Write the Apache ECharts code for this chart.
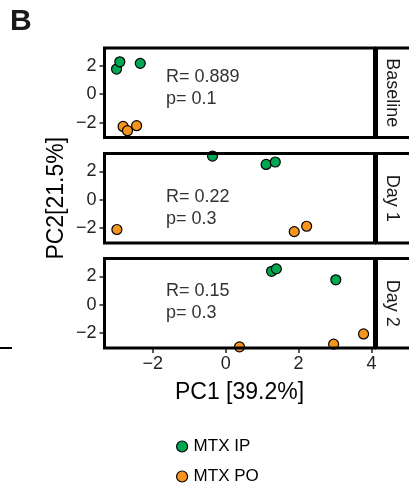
<!DOCTYPE html>
<html>
<head>
<meta charset="utf-8">
<script src="https://cdn.jsdelivr.net/npm/echarts@6/dist/echarts.min.js"></script>
<style>
  html, body { margin: 0; padding: 0; background: #fff; }
  #chart { width: 409px; height: 493px; }
</style>
</head>
<body>
<div id="chart"></div>
<script>
// PCA scores, one array per panel and group
var baselineIP = [[-2.99, 1.77], [-2.90, 2.28], [-2.34, 2.17]]
var baselinePO = [[-2.81, -2.27], [-2.69, -2.57], [-2.44, -2.22]]
var day1IP = [[-0.36, 3.07], [1.11, 2.48], [1.36, 2.65]]
var day1PO = [[-2.98, -2.10], [1.88, -2.25], [2.22, -1.87]]
var day2IP = [[1.26, 2.35], [1.39, 2.52], [3.02, 1.75]]
var day2PO = [[0.38, -2.97], [2.96, -2.78], [3.78, -2.06]]

var panelNames = ['Baseline', 'Day 1', 'Day 2']
var rValues = ['0.889', '0.22', '0.15']
var pValues = ['0.1', '0.3', '0.3']
var xTicks = [-2, 0, 2, 4]
var yTicks = [-2, 0, 2]
var groupNames = ['MTX IP', 'MTX PO']

var ipData = [baselineIP, day1IP, day2IP]
var poData = [baselinePO, day1PO, day2PO]

var FONT = 'Liberation Sans, Arial, Helvetica, sans-serif'
var GREEN = '#00a651'
var ORANGE = '#f7941d'

var left = 104.5
var width = 270
var tops = [48, 153.5, 258.5]
var height = 89.5
// R / p label rows, pixel offset from panel top
var rRows = [28.7, 43.8, 32.2]

var myChart = echarts.init(document.getElementById('chart'))

var grids = []
var xAxes = []
var yAxes = []
var series = []
var graphics = []

function minus (v) {
  return String(v).replace('-', '\u2212')
}

for (var i = 0; i < 3; i++) {
  grids.push({ left: left, top: tops[i], width: width, height: height })
  xAxes.push({
    type: 'value',
    gridIndex: i,
    min: -3.32,
    max: 4.08,
    axisLine: { show: false, onZero: false },
    splitLine: { show: false },
    axisTick: {
      show: i === 2,
      customValues: xTicks,
      length: 5,
      lineStyle: { color: '#222', width: 1.5 }
    },
    axisLabel: {
      show: i === 2,
      customValues: xTicks,
      formatter: minus,
      color: '#222',
      fontSize: 18,
      fontFamily: FONT,
      margin: 7
    },
    name: i === 2 ? 'PC1 [39.2%]' : '',
    nameLocation: 'middle',
    nameGap: 33,
    nameMoveOverlap: false,
    nameTextStyle: { color: '#000', fontSize: 23, fontFamily: FONT }
  })
  yAxes.push({
    type: 'value',
    gridIndex: i,
    min: -3.05,
    max: 3.25,
    axisLine: { show: false, onZero: false },
    splitLine: { show: false },
    axisTick: {
      customValues: yTicks,
      length: 5,
      lineStyle: { color: '#222', width: 1.5 }
    },
    axisLabel: {
      customValues: yTicks,
      formatter: minus,
      color: '#222',
      fontSize: 18,
      fontFamily: FONT,
      margin: 8
    },
    name: i === 1 ? 'PC2[21.5%]' : '',
    nameLocation: 'middle',
    nameGap: 36,
    nameMoveOverlap: false,
    nameTextStyle: { color: '#000', fontSize: 23, fontFamily: FONT }
  })
  series.push({
    name: groupNames[0],
    type: 'scatter',
    xAxisIndex: i,
    yAxisIndex: i,
    symbolSize: 10,
    itemStyle: { color: GREEN, borderColor: '#000', borderWidth: 1.2, opacity: 1 },
    data: ipData[i]
  })
  series.push({
    name: groupNames[1],
    type: 'scatter',
    xAxisIndex: i,
    yAxisIndex: i,
    symbolSize: 10,
    itemStyle: { color: ORANGE, borderColor: '#000', borderWidth: 1.2, opacity: 1 },
    data: poData[i]
  })

  // panel border
  graphics.push({
    type: 'rect',
    z: 100,
    shape: { x: left, y: tops[i], width: width, height: height },
    style: { fill: null, stroke: '#000', lineWidth: 3 }
  })
  // facet strip
  graphics.push({
    type: 'rect',
    z: 100,
    shape: { x: left + width + 2, y: tops[i], width: 60, height: height },
    style: { fill: '#fff', stroke: '#000', lineWidth: 3 }
  })
  graphics.push({
    type: 'text',
    z: 101,
    x: 392,
    y: tops[i] + height / 2,
    rotation: -Math.PI / 2,
    style: {
      text: panelNames[i],
      fill: '#1a1a1a',
      font: '18px ' + FONT,
      align: 'center',
      verticalAlign: 'middle'
    }
  })
  graphics.push({
    type: 'text',
    z: 101,
    x: 166,
    y: tops[i] + rRows[i],
    style: {
      text: 'R= ' + rValues[i],
      fill: '#333',
      font: '18px ' + FONT,
      align: 'left',
      verticalAlign: 'middle'
    }
  })
  graphics.push({
    type: 'text',
    z: 101,
    x: 166,
    y: tops[i] + rRows[i] + 22,
    style: {
      text: 'p= ' + pValues[i],
      fill: '#333',
      font: '18px ' + FONT,
      align: 'left',
      verticalAlign: 'middle'
    }
  })
}

// panel tag and the stray rule from the neighbouring figure
graphics.push({
  type: 'text',
  left: 10,
  top: 7,
  style: { text: 'B', fill: '#1a1a1a', font: 'bold 30px ' + FONT }
})
graphics.push({
  type: 'line',
  shape: { x1: 0, y1: 348, x2: 12, y2: 348 },
  style: { stroke: '#000', lineWidth: 2 }
})

var option = {
  animation: false,
  backgroundColor: '#fff',
  grid: grids,
  xAxis: xAxes,
  yAxis: yAxes,
  legend: {
    orient: 'vertical',
    left: 171,
    top: 433,
    data: groupNames,
    icon: 'circle',
    itemWidth: 11,
    itemHeight: 11,
    itemGap: 13,
    itemStyle: { borderColor: '#000', borderWidth: 1.2 },
    textStyle: { color: '#000', fontSize: 17, fontFamily: FONT, padding: [0, 0, 0, 1] }
  },
  graphic: graphics,
  series: series
}

myChart.setOption(option)
</script>
</body>
</html>
